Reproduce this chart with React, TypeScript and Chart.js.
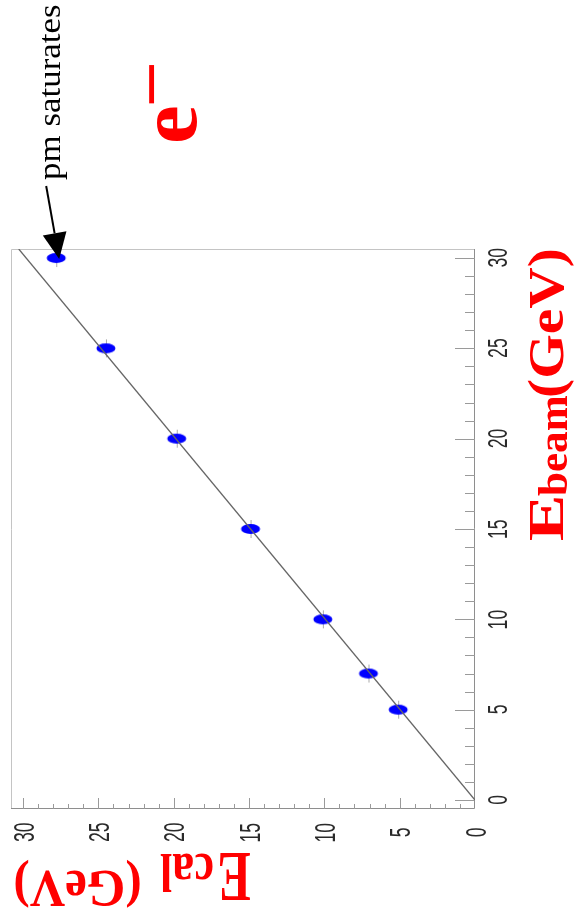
import { useEffect, useRef } from 'react';
import { Chart, registerables } from 'chart.js';

Chart.register(...registerables);

// Beam energy (GeV) and reconstructed calorimeter energy (GeV)
const EBEAM_GEV = [5, 7, 10, 15, 20, 25, 30];
const ECAL_GEV = [5.1, 7.07, 10.1, 14.9, 19.8, 24.5, 27.8];

// Linear fit through the origin: Ecal = FIT_SLOPE * Ebeam
const FIT_SLOPE = 0.993;

// Axis ranges
const EBEAM_RANGE = [-0.5, 30.5];
const ECAL_RANGE = [0, 30.8];

// Tick labels (major) and minor step
const EBEAM_TICK_LABELS = [0, 5, 10, 15, 20, 25, 30];
const ECAL_TICK_LABELS = [0, 5, 10, 15, 20, 25, 30];
const MINOR_STEP = 1;

const SERIF = '"Liberation Serif", "Times New Roman", serif';
const SANS = '"Liberation Sans", Arial, sans-serif';

type Ctx = CanvasRenderingContext2D;

// Draw text so that its ink box fills the rectangle [x0,x1]x[y0,y1]
function fitText(ctx: Ctx, text: string, font: string, color: string, rot: number,
  x0: number, x1: number, y0: number, y1: number) {
  ctx.save();
  ctx.font = font;
  ctx.fillStyle = color;
  ctx.textAlign = 'left';
  ctx.textBaseline = 'alphabetic';
  const m = ctx.measureText(text);
  const bl = m.actualBoundingBoxLeft, br = m.actualBoundingBoxRight;
  const as = m.actualBoundingBoxAscent, ds = m.actualBoundingBoxDescent;
  const inkW = bl + br, inkH = as + ds;
  if (rot === -90) {
    const sx = (y1 - y0) / inkW, sy = (x1 - x0) / inkH;
    ctx.translate(x0 + as * sy, y0 + br * sx);
    ctx.rotate(-Math.PI / 2);
    ctx.scale(sx, sy);
  } else {
    const sx = (x1 - x0) / inkW, sy = (y1 - y0) / inkH;
    ctx.translate(x0 + br * sx, y0 + ds * sy);
    ctx.rotate(Math.PI);
    ctx.scale(sx, sy);
  }
  ctx.fillText(text, 0, 0);
  ctx.restore();
}

// Draw a tick label rotated -90deg, ink centred on (cx, cy)
function tickLabel(ctx: Ctx, text: string, cx: number, cy: number, digitLen: number, inkHeight: number) {
  ctx.save();
  ctx.font = `17px ${SANS}`;
  ctx.fillStyle = '#2a2a2a';
  ctx.textAlign = 'left';
  ctx.textBaseline = 'alphabetic';
  const m = ctx.measureText(text);
  const bl = m.actualBoundingBoxLeft, br = m.actualBoundingBoxRight;
  const as = m.actualBoundingBoxAscent, ds = m.actualBoundingBoxDescent;
  const sx = digitLen / ctx.measureText('0').width;
  const sy = inkHeight / (as + ds);
  ctx.translate(cx + ((as - ds) / 2) * sy, cy + ((br - bl) / 2) * sx);
  ctx.rotate(-Math.PI / 2);
  ctx.scale(sx, sy);
  ctx.fillText(text, 0, 0);
  ctx.restore();
}

function makeMarker(): HTMLCanvasElement {
  const c = document.createElement('canvas');
  c.width = 22;
  c.height = 22;
  const g = c.getContext('2d')!;
  g.strokeStyle = '#a8a8a8';
  g.lineWidth = 1;
  g.beginPath();
  g.moveTo(11.5, 2);
  g.lineTo(11.5, 20);
  g.stroke();
  g.fillStyle = '#0000ff';
  g.beginPath();
  g.ellipse(11, 11, 9.5, 5, 0, 0, Math.PI * 2);
  g.fill();
  return c;
}

const framePlugin = {
  id: 'frameAxes',
  beforeDatasetsDraw(chart: any) {
    const ctx: Ctx = chart.ctx;
    const { left, right, top, bottom } = chart.chartArea;
    const xs = chart.scales.x;
    const ys = chart.scales.y;
    ctx.save();
    ctx.lineWidth = 1;
    // top & left frame
    ctx.strokeStyle = '#c4c4c4';
    ctx.beginPath();
    ctx.moveTo(left + 0.5, bottom);
    ctx.lineTo(left + 0.5, top + 0.5);
    ctx.lineTo(right, top + 0.5);
    ctx.stroke();
    // axis lines (Ebeam on right, Ecal on bottom)
    ctx.strokeStyle = '#8e8e8e';
    ctx.beginPath();
    ctx.moveTo(right - 0.5, top);
    ctx.lineTo(right - 0.5, bottom - 0.5);
    ctx.lineTo(left, bottom - 0.5);
    ctx.stroke();
    // Ebeam ticks
    ctx.strokeStyle = '#9a9a9a';
    ctx.beginPath();
    for (let v = 0; v <= EBEAM_RANGE[1]; v += MINOR_STEP) {
      const y = Math.round(ys.getPixelForValue(v)) + 0.5;
      const len = v % 5 === 0 ? 20 : 10;
      ctx.moveTo(right, y);
      ctx.lineTo(right - len, y);
    }
    // Ecal ticks
    for (let v = MINOR_STEP; v <= ECAL_RANGE[1]; v += MINOR_STEP) {
      const x = Math.round(xs.getPixelForValue(v)) + 0.5;
      const len = v % 5 === 0 ? 11 : 5;
      ctx.moveTo(x, bottom);
      ctx.lineTo(x, bottom - len);
    }
    ctx.stroke();
    ctx.restore();
  },
  afterDatasetsDraw(chart: any) {
    const ctx: Ctx = chart.ctx;
    const { right, bottom } = chart.chartArea;
    const xs = chart.scales.x;
    const ys = chart.scales.y;

    // tick labels
    EBEAM_TICK_LABELS.forEach((v) => {
      tickLabel(ctx, String(v), right + 22, ys.getPixelForValue(v), 9.8, 20);
    });
    ECAL_TICK_LABELS.forEach((v) => {
      tickLabel(ctx, String(v), xs.getPixelForValue(v), bottom + 23.5, 9.8, 21);
    });

    // Ebeam axis title (reads upwards)
    const bold = (s: number) => `bold ${s}px ${SERIF}`;
    fitText(ctx, 'E', bold(60), '#ff0000', -90, 530, 563, 498, 540);
    fitText(ctx, 'beam', bold(50), '#ff0000', -90, 538, 568, 396, 496);
    fitText(ctx, '(GeV)', bold(60), '#ff0000', -90, 528, 574, 250, 396);

    // Ecal axis title (upside down)
    fitText(ctx, 'E', bold(60), '#ff0000', 180, 220, 250, 853, 900);
    fitText(ctx, 'cal', bold(50), '#ff0000', 180, 160, 213, 853, 892);
    fitText(ctx, '(GeV)', bold(60), '#ff0000', 180, 15, 140, 860, 908);

    // particle label
    fitText(ctx, 'e', bold(85), '#ff0000', -90, 157, 197, 107, 142);
    fitText(ctx, '\u2212', bold(70), '#ff0000', -90, 149, 155, 64, 104);

    // saturation note with arrow to the 30 GeV point
    fitText(ctx, 'pm saturates', `35px ${SERIF}`, '#000000', -90, 40, 67, 5, 180);
    const i = EBEAM_GEV.indexOf(30);
    const px = xs.getPixelForValue(ECAL_GEV[i]);
    const py = ys.getPixelForValue(EBEAM_GEV[i]);
    const tip = { x: px + 3, y: py + 1 };
    const start = { x: px - 10, y: py - 72 };
    const dx = tip.x - start.x, dy = tip.y - start.y;
    const L = Math.hypot(dx, dy);
    const ux = dx / L, uy = dy / L;
    const headLen = 26, headHalf = 12;
    const bx = tip.x - ux * headLen, by = tip.y - uy * headLen;
    ctx.save();
    ctx.strokeStyle = '#000';
    ctx.fillStyle = '#000';
    ctx.lineWidth = 2;
    ctx.beginPath();
    ctx.moveTo(start.x, start.y);
    ctx.lineTo(bx, by);
    ctx.stroke();
    ctx.beginPath();
    ctx.moveTo(tip.x, tip.y);
    ctx.lineTo(bx - uy * headHalf, by + ux * headHalf);
    ctx.lineTo(bx + uy * headHalf, by - ux * headHalf);
    ctx.closePath();
    ctx.fill();
    ctx.restore();
  },
};

export default function App() {
  const ref = useRef<HTMLCanvasElement | null>(null);

  useEffect(() => {
    if (!ref.current) return;
    const marker = makeMarker();
    const points = EBEAM_GEV.map((e, i) => ({ x: ECAL_GEV[i], y: e }));
    const fitLine = [
      { x: 0, y: 0 },
      { x: FIT_SLOPE * EBEAM_RANGE[1], y: EBEAM_RANGE[1] },
    ];
    const chart = new Chart(ref.current, {
      type: 'scatter',
      data: {
        datasets: [
          {
            label: 'fit',
            data: fitLine,
            showLine: true,
            borderColor: '#666666',
            borderWidth: 1.3,
            pointRadius: 0,
          },
          {
            label: 'data',
            data: points,
            pointStyle: marker as any,
            pointRadius: 10,
            showLine: false,
          },
        ],
      },
      options: {
        responsive: false,
        maintainAspectRatio: false,
        devicePixelRatio: 1,
        animation: false,
        events: [],
        layout: { padding: { left: 9, right: 105, top: 249, bottom: 108 } },
        plugins: { legend: { display: false }, tooltip: { enabled: false } },
        scales: {
          x: { type: 'linear', reverse: true, min: ECAL_RANGE[0], max: ECAL_RANGE[1], display: false },
          y: { type: 'linear', min: EBEAM_RANGE[0], max: EBEAM_RANGE[1], display: false },
        },
      },
      plugins: [framePlugin],
    });
    return () => chart.destroy();
  }, []);

  return (
    <div style={{ position: 'absolute', left: 0, top: 0, width: 580, height: 917, background: '#fff' }}>
      <canvas ref={ref} width={580} height={917} style={{ display: 'block' }} />
    </div>
  );
}
